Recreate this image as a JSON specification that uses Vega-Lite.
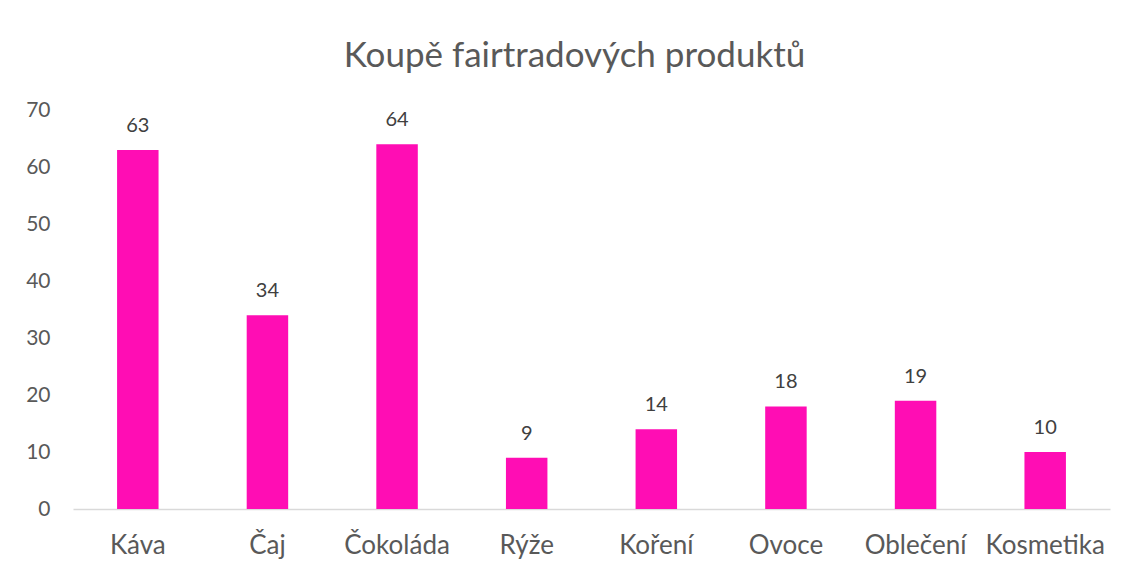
{
  "$schema": "https://vega.github.io/schema/vega-lite/v6.json",
  "width": 1037,
  "height": 399,
  "autosize": "none",
  "padding": {"left": 73, "top": 110, "right": 22, "bottom": 64},
  "background": "white",
  "title": {
    "text": "Koupě fairtradových produktů",
    "fontSize": 35,
    "font": "Lato",
    "fontWeight": "normal",
    "color": "#595959",
    "anchor": "middle",
    "offset": 25,
    "dx": -17
  },
  "config": {
    "view": {"stroke": null},
    "font": "Lato"
  },
  "data": {
    "values": [
      {"produkt": "Káva", "pocet": 63},
      {"produkt": "Čaj", "pocet": 34},
      {"produkt": "Čokoláda", "pocet": 64},
      {"produkt": "Rýže", "pocet": 9},
      {"produkt": "Koření", "pocet": 14},
      {"produkt": "Ovoce", "pocet": 18},
      {"produkt": "Oblečení", "pocet": 19},
      {"produkt": "Kosmetika", "pocet": 10}
    ]
  },
  "encoding": {
    "x": {
      "field": "produkt",
      "type": "nominal",
      "sort": null,
      "scale": {"paddingInner": 0.68, "paddingOuter": 0.34},
      "axis": {
        "title": null,
        "labelAngle": 0,
        "labelFontSize": 26,
        "labelColor": "#595959",
        "labelPadding": 23,
        "ticks": false,
        "domainColor": "#d9d9d9",
        "domainWidth": 1.5,
        "labelFont": "Lato"
      }
    },
    "y": {
      "field": "pocet",
      "type": "quantitative",
      "scale": {"domain": [0, 70]},
      "axis": {
        "title": null,
        "values": [0, 10, 20, 30, 40, 50, 60, 70],
        "labelFontSize": 21,
        "labelColor": "#595959",
        "labelPadding": 23,
        "ticks": false,
        "domain": false,
        "grid": false,
        "labelFont": "Lato"
      }
    }
  },
  "layer": [
    {"mark": {"type": "bar", "color": "#FF0DB4"}},
    {
      "mark": {"type": "text", "baseline": "alphabetic", "dy": -18, "fontSize": 20, "color": "#404040", "font": "Lato"},
      "encoding": {"text": {"field": "pocet", "type": "quantitative"}}
    }
  ]
}
